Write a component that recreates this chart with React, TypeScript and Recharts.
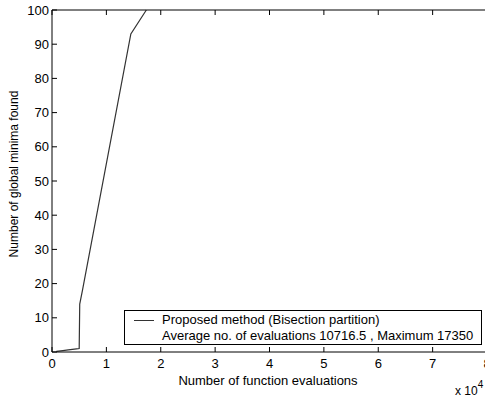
import React from 'react';
import { LineChart, Line, XAxis, YAxis } from 'recharts';

const evals = [0.08, 0.2, 0.3, 0.45, 0.5, 0.51, 0.56, 1.45, 1.735];
const found = [0.2, 0.4, 0.6, 0.9, 1, 14, 18, 93, 100];
const xTicks = [0, 1, 2, 3, 4, 5, 6, 7, 8];
const yTicks = [0, 10, 20, 30, 40, 50, 60, 70, 80, 90, 100];
const legendLine1 = 'Proposed method (Bisection partition)';
const legendLine2 = 'Average no. of evaluations 10716.5 , Maximum 17350';

const data = evals.map((e, i) => ({ x: e, y: found[i] }));

const FONT = '"Liberation Sans", Arial, sans-serif';
const TL = 5;

const BottomTick = (p: any) => (
  <g>
    <line x1={p.x} y1={p.y} x2={p.x} y2={p.y - TL} stroke="#000" strokeWidth={1} />
    <text x={p.x} y={p.y + 16} textAnchor="middle" fontSize={13} fontFamily={FONT} fill="#000">
      {p.payload.value}
    </text>
  </g>
);
const TopTick = (p: any) => (
  <line x1={p.x} y1={p.y} x2={p.x} y2={p.y + TL} stroke="#000" strokeWidth={1} />
);
const LeftTick = (p: any) => (
  <g>
    <line x1={p.x} y1={p.y} x2={p.x + TL} y2={p.y} stroke="#000" strokeWidth={1} />
    <text x={p.x - 3} y={p.y + 4.5} textAnchor="end" fontSize={13} fontFamily={FONT} fill="#000">
      {p.payload.value}
    </text>
  </g>
);
const RightTick = (p: any) => (
  <line x1={p.x} y1={p.y} x2={p.x - TL} y2={p.y} stroke="#000" strokeWidth={1} />
);

export default function App() {
  return (
    <div style={{ position: 'absolute', left: 0, top: 0, width: 485, height: 397, overflow: 'hidden', background: '#fff' }}>
      <LineChart width={500} height={397} data={data} margin={{ top: 9, right: 12, bottom: 0, left: 0 }}>
        <XAxis
          xAxisId="b"
          dataKey="x"
          type="number"
          domain={[0, 8]}
          ticks={xTicks}
          interval={0}
          height={45}
          tickLine={false}
          tickSize={0}
          tickMargin={0}
          axisLine={{ stroke: '#000' }}
          tick={BottomTick}
        />
        <XAxis
          xAxisId="t"
          orientation="top"
          dataKey="x"
          type="number"
          domain={[0, 8]}
          ticks={xTicks}
          interval={0}
          height={1}
          tickLine={false}
          tickSize={0}
          tickMargin={0}
          axisLine={{ stroke: '#000' }}
          tick={TopTick}
        />
        <YAxis
          yAxisId="l"
          type="number"
          domain={[0, 100]}
          ticks={yTicks}
          interval={0}
          width={52}
          tickLine={false}
          tickSize={0}
          tickMargin={0}
          axisLine={{ stroke: '#000' }}
          tick={LeftTick}
        />
        <YAxis
          yAxisId="r"
          orientation="right"
          type="number"
          domain={[0, 100]}
          ticks={yTicks}
          interval={0}
          width={1}
          tickLine={false}
          tickSize={0}
          tickMargin={0}
          axisLine={{ stroke: '#000' }}
          tick={RightTick}
        />
        <Line
          xAxisId="b"
          yAxisId="l"
          dataKey="y"
          type="linear"
          stroke="#333"
          strokeWidth={1.2}
          dot={false}
          isAnimationActive={false}
        />
      </LineChart>
      <div style={{ position: 'absolute', left: 14, top: 174, transform: 'translate(-50%, -50%) rotate(-90deg)', whiteSpace: 'nowrap', fontFamily: FONT, fontSize: 12, color: '#000' }}>
        Number of global minima found
      </div>
      <div style={{ position: 'absolute', left: 268, top: 380, transform: 'translate(-50%, -50%)', whiteSpace: 'nowrap', fontFamily: FONT, fontSize: 13, color: '#000' }}>
        Number of function evaluations
      </div>
      <div style={{ position: 'absolute', left: 455, top: 380, whiteSpace: 'nowrap', fontFamily: FONT, fontSize: 12, color: '#000', lineHeight: '14px' }}>
        x 10<sup style={{ fontSize: 10, position: 'relative', top: -2 }}>4</sup>
      </div>
      <div style={{ position: 'absolute', left: 124, top: 310, width: 358, height: 35, border: '1px solid #000', background: '#fff', boxSizing: 'border-box', fontFamily: FONT, fontSize: 13, color: '#000' }}>
        <div style={{ position: 'absolute', left: 9, top: 9, width: 20, height: 0, borderTop: '1px solid #333' }} />
        <div style={{ position: 'absolute', left: 37, top: 1, whiteSpace: 'nowrap', lineHeight: '16px' }}>{legendLine1}</div>
        <div style={{ position: 'absolute', left: 37, top: 17, whiteSpace: 'nowrap', lineHeight: '16px' }}>{legendLine2}</div>
      </div>
    </div>
  );
}
